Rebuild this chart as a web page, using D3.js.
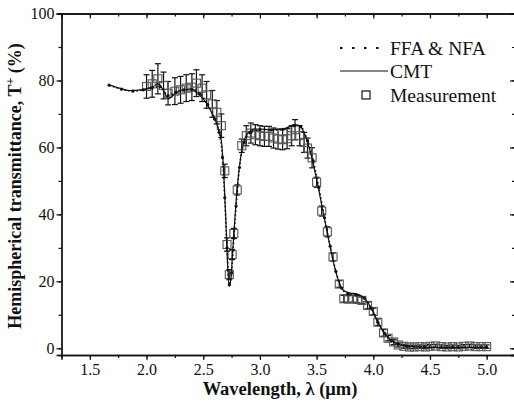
<!DOCTYPE html>
<html>
<head>
<meta charset="utf-8">
<script src="https://cdn.jsdelivr.net/npm/d3@7"></script>
<style>
  body { margin: 0; background: #fff; }
  svg text { font-family: "Liberation Serif", "DejaVu Serif", serif !important; fill: #111; }
</style>
</head>
<body>
<div id="chart"></div>
<script>
// CMT theory curve
const cmtWl = [1.67, 1.75, 1.85, 1.95, 2.0, 2.05, 2.1, 2.15, 2.19, 2.25, 2.3, 2.35, 2.4, 2.45, 2.5, 2.55, 2.6, 2.63, 2.66, 2.68, 2.7, 2.715, 2.73, 2.745, 2.76, 2.78, 2.8, 2.83, 2.86, 2.9, 2.95, 3.0, 3.1, 3.2, 3.25, 3.3, 3.35, 3.4, 3.45, 3.5, 3.55, 3.6, 3.65, 3.7, 3.75, 3.8, 3.85, 3.9, 3.95, 4.0, 4.05, 4.1, 4.15, 4.2, 4.25, 4.3, 4.4, 4.5, 4.75, 5.0];
const cmtT = [78.7, 77.8, 77.0, 77.2, 77.5, 78.0, 79.0, 77.0, 74.5, 76.0, 77.0, 77.3, 77.5, 76.0, 74.5, 72.0, 68.5, 66.0, 62.0, 53.0, 38.0, 25.0, 18.5, 21.0, 29.0, 39.0, 48.0, 57.0, 62.0, 64.5, 65.5, 65.5, 65.3, 65.5, 66.0, 66.8, 66.5, 63.5, 58.0, 50.5, 42.0, 33.5, 25.5, 19.5, 17.0, 16.5, 16.3, 15.5, 13.8, 10.8, 7.2, 4.5, 2.6, 1.5, 0.9, 0.6, 0.4, 0.3, 0.3, 0.3];

// FFA & NFA theory curve (dotted, with point dots)
const ffaWl = [1.67, 1.78, 1.88, 1.97, 2.05, 2.12, 2.19, 2.26, 2.33, 2.4, 2.47, 2.54, 2.6, 2.64, 2.67, 2.69, 2.71, 2.73, 2.75, 2.77, 2.79, 2.82, 2.86, 2.92, 3.0, 3.1, 3.2, 3.3, 3.36, 3.42, 3.47, 3.52, 3.57, 3.62, 3.67, 3.72, 3.78, 3.85, 3.92, 3.98, 4.04, 4.1, 4.16, 4.22, 4.3, 4.45, 4.7, 5.0];
const ffaT = [78.6, 77.4, 76.8, 77.2, 77.8, 78.2, 75.5, 76.5, 77.2, 77.3, 76.0, 72.8, 68.5, 64.5, 57.0, 45.0, 30.0, 19.0, 22.5, 33.0, 42.5, 54.0, 61.5, 64.5, 65.3, 65.2, 65.4, 66.5, 66.2, 62.0, 56.0, 48.0, 39.0, 30.5, 23.0, 18.0, 16.2, 16.0, 15.0, 12.0, 7.8, 4.5, 2.3, 1.3, 0.6, 0.4, 0.3, 0.3];

// Measurement with error bars
const measWl = [2.0, 2.05, 2.1, 2.15, 2.19, 2.25, 2.3, 2.35, 2.4, 2.44, 2.49, 2.53, 2.58, 2.62, 2.66, 2.69, 2.71, 2.73, 2.755, 2.77, 2.8, 2.84, 2.88, 2.92, 2.96, 3.0, 3.04, 3.08, 3.12, 3.16, 3.2, 3.24, 3.28, 3.31, 3.35, 3.39, 3.42, 3.46, 3.5, 3.545, 3.595, 3.645, 3.7, 3.74, 3.78, 3.82, 3.86, 3.9, 3.95, 4.0, 4.04, 4.09, 4.13, 4.18, 4.22, 4.27, 4.32, 4.36, 4.41, 4.46, 4.5, 4.55, 4.6, 4.65, 4.7, 4.75, 4.8, 4.85, 4.9, 4.95, 5.0];
const measT = [78.2, 79.0, 80.5, 78.5, 76.2, 76.8, 77.2, 77.7, 78.0, 79.2, 77.7, 75.7, 73.0, 70.5, 66.5, 53.0, 31.0, 22.0, 28.0, 34.3, 47.3, 60.5, 63.5, 64.3, 63.8, 63.5, 63.3, 63.3, 62.8, 62.5, 62.3, 62.6, 63.5, 65.3, 63.5, 61.5, 59.8, 56.9, 49.6, 41.0, 34.8, 27.3, 19.2, 14.8, 14.7, 14.8, 14.6, 14.3, 12.8, 11.0, 7.8, 4.6, 3.0, 1.9, 1.0, 0.6, 0.4, 0.4, 0.5, 0.4, 0.6, 0.7, 0.5, 0.4, 0.5, 0.4, 0.6, 0.7, 0.5, 0.5, 0.5];
const measErr = [3.5, 4, 4.5, 4, 3.5, 4, 4, 4, 4, 4, 4, 4, 4, 3.5, 3.5, 2, 2, 1.5, 1.5, 1.5, 1.5, 2, 3, 3, 3, 3, 3, 3, 3, 3, 3, 3, 3, 3, 3, 3, 3, 3, 1.5, 1.5, 1.5, 1.2, 1, 1, 1, 1, 1, 1, 1, 1, 1, 1, 0.8, 0.8, 0.6, 0.6, 0.5, 0.5, 0.5, 0.5, 0.5, 0.5, 0.5, 0.5, 0.5, 0.5, 0.5, 0.5, 0.5, 0.5, 0.5];

const xTicks = [1.5, 2.0, 2.5, 3.0, 3.5, 4.0, 4.5, 5.0];
const yTicks = [0, 20, 40, 60, 80, 100];
const legendLabels = ['FFA & NFA', 'CMT', 'Measurement'];

const FONT = '"Liberation Serif", "DejaVu Serif", serif';
const width = 514, height = 404;
const margin = { top: 13.5, right: -1, bottom: 49, left: 61.5 };

const svg = d3.select('#chart').append('svg')
  .attr('width', width)
  .attr('height', height);

const x = d3.scaleLinear()
  .domain([1.25, 5.25])
  .range([margin.left, width - margin.right]);

const y = d3.scaleLinear()
  .domain([-2, 100])
  .range([height - margin.bottom, margin.top]);

const xMinor = d3.range(1.25, 5.26, 0.25);
const yMinor = d3.range(0, 101, 10);

// axes
svg.append('g')
  .attr('transform', `translate(0,${y.range()[0]})`)
  .call(d3.axisBottom(x).tickValues(xTicks).tickFormat(d3.format('.1f')).tickSize(5).tickPadding(4));
svg.append('g')
  .attr('transform', `translate(0,${y.range()[0]})`)
  .call(d3.axisBottom(x).tickValues(xMinor).tickFormat('').tickSize(3));
svg.append('g')
  .attr('transform', `translate(${margin.left},0)`)
  .call(d3.axisLeft(y).tickValues(yTicks).tickSize(5).tickPadding(2));
svg.append('g')
  .attr('transform', `translate(${margin.left},0)`)
  .call(d3.axisLeft(y).tickValues(yMinor).tickFormat('').tickSize(3));
svg.append('g')
  .attr('transform', `translate(0,${margin.top})`)
  .call(d3.axisBottom(x).tickValues(xTicks).tickFormat('').tickSize(5));
svg.append('g')
  .attr('transform', `translate(0,${margin.top})`)
  .call(d3.axisBottom(x).tickValues(xMinor).tickFormat('').tickSize(3));
svg.append('g')
  .attr('transform', `translate(${width - margin.right},0)`)
  .call(d3.axisLeft(y).tickValues(yTicks).tickFormat('').tickSize(5));
svg.append('g')
  .attr('transform', `translate(${width - margin.right},0)`)
  .call(d3.axisLeft(y).tickValues(yMinor).tickFormat('').tickSize(3));

svg.selectAll('g').attr('font-family', FONT);
svg.selectAll('.domain').attr('stroke', '#111').attr('stroke-width', 1.3);
svg.selectAll('.tick line').attr('stroke', '#111').attr('stroke-width', 1.2);
svg.selectAll('.tick text')
  .attr('font-size', 16)
  .attr('font-family', FONT)
  .attr('fill', '#111');

// axis titles
svg.append('text')
  .attr('x', 280)
  .attr('y', 395)
  .attr('text-anchor', 'middle')
  .attr('font-family', FONT)
  .attr('font-size', 18.5)
  .attr('font-weight', 'bold')
  .text('Wavelength, λ (μm)');

const yTitle = svg.append('text')
  .attr('transform', `translate(21,186) rotate(-90)`)
  .attr('text-anchor', 'middle')
  .attr('font-family', FONT)
  .attr('font-size', 18)
  .attr('font-weight', 'bold');
yTitle.append('tspan').text('Hemispherical transmittance, T');
yTitle.append('tspan').attr('dy', -7).attr('font-size', 12).text('+');
yTitle.append('tspan').attr('dy', 7).text(' (%)');

// data
const cmt = cmtWl.map((d, i) => ({ x: d, y: cmtT[i] }));
const ffa = ffaWl.map((d, i) => ({ x: d, y: ffaT[i] }));
const meas = measWl.map((d, i) => ({ x: d, y: measT[i], e: measErr[i] }));

const line = d3.line()
  .x(d => x(d.x))
  .y(d => y(d.y))
  .curve(d3.curveMonotoneX);

// error bars
const eb = svg.append('g').attr('stroke', '#111').attr('stroke-width', 1.2);
eb.selectAll('line.v').data(meas).enter().append('line')
  .attr('x1', d => x(d.x)).attr('x2', d => x(d.x))
  .attr('y1', d => y(d.y - d.e)).attr('y2', d => y(d.y + d.e));
eb.selectAll('line.t').data(meas).enter().append('line')
  .attr('x1', d => x(d.x) - 3).attr('x2', d => x(d.x) + 3)
  .attr('y1', d => y(d.y + d.e)).attr('y2', d => y(d.y + d.e));
eb.selectAll('line.b').data(meas).enter().append('line')
  .attr('x1', d => x(d.x) - 3).attr('x2', d => x(d.x) + 3)
  .attr('y1', d => y(d.y - d.e)).attr('y2', d => y(d.y - d.e));

// squares
svg.append('g')
  .selectAll('rect')
  .data(meas)
  .enter()
  .append('rect')
  .attr('x', d => x(d.x) - 4)
  .attr('y', d => y(d.y) - 4)
  .attr('width', 8)
  .attr('height', 8)
  .attr('fill', 'none')
  .attr('stroke', '#555')
  .attr('stroke-width', 1.1);

// CMT solid line
svg.append('path')
  .datum(cmt)
  .attr('d', line)
  .attr('fill', 'none')
  .attr('stroke', '#111')
  .attr('stroke-width', 1.2);

// FFA & NFA dotted line with dots
svg.append('path')
  .datum(ffa)
  .attr('d', line)
  .attr('fill', 'none')
  .attr('stroke', '#111')
  .attr('stroke-width', 1.6)
  .attr('stroke-dasharray', '1.5,2.5');
svg.append('g')
  .selectAll('circle')
  .data(ffa)
  .enter()
  .append('circle')
  .attr('cx', d => x(d.x))
  .attr('cy', d => y(d.y))
  .attr('r', 1.6)
  .attr('fill', '#111');

// legend
const lg = svg.append('g');
const lgY = [48, 71, 95];
lg.append('line')
  .attr('x1', 340).attr('x2', 385).attr('y1', lgY[0]).attr('y2', lgY[0])
  .attr('stroke', '#111').attr('stroke-width', 2.2)
  .attr('stroke-dasharray', '2.5,9.5');
lg.append('line')
  .attr('x1', 340).attr('x2', 388).attr('y1', lgY[1]).attr('y2', lgY[1])
  .attr('stroke', '#111').attr('stroke-width', 1.2);
lg.append('rect')
  .attr('x', 362).attr('y', lgY[2] - 4).attr('width', 8).attr('height', 8)
  .attr('fill', 'none').attr('stroke', '#111').attr('stroke-width', 1.2);
lg.selectAll('text.lg')
  .data(legendLabels)
  .enter()
  .append('text')
  .attr('x', 390)
  .attr('y', (d, i) => lgY[i] + 7)
  .attr('font-family', FONT)
  .attr('font-size', 19.5)
  .text(d => d);
</script>
</body>
</html>
